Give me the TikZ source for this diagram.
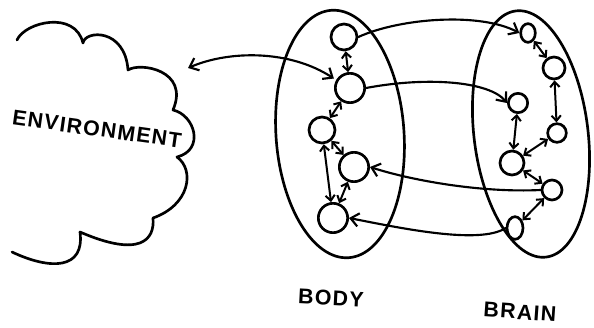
\documentclass[tikz,border=0pt]{standalone}
\usepackage{fontspec}
\setmainfont{Liberation Sans}
\usetikzlibrary{arrows.meta,shapes.geometric}
\begin{document}
\begin{tikzpicture}[x=0.75pt,y=-0.75pt,
  ink/.style={line width=2pt,line cap=round,line join=round},
  unit/.style={draw,ink,circle,inner sep=0pt,minimum size=#1},
  ovalunit/.style={draw,ink,ellipse,inner sep=0pt},
  link/.style={line width=1.6pt,line cap=round},
  short/.style={line width=1.5pt,line cap=round,{Straight Barb[length=4pt,width=7pt]}-{Straight Barb[length=4pt,width=7pt]}},
  label/.style={font=\fontsize{16}{16}\selectfont\bfseries\addfontfeatures{LetterSpace=6}},
  >={Straight Barb[length=6pt,width=10pt]}]
\useasboundingbox (0,0) rectangle (594,328);
% cloud
\draw[ink] (17,40) .. controls (25,22) and (75,10) .. (83,43)
  .. controls (85,30) and (125,28) .. (128,70)
  .. controls (140,62) and (190,70) .. (173,110)
  .. controls (195,115) and (205,150) .. (177,157)
  .. controls (195,170) and (190,205) .. (153,218)
  .. controls (155,240) and (140,258) .. (80,232)
  .. controls (85,270) and (50,270) .. (12,252);
\node[label,rotate=-8] (env) at (97,129) {ENVIRONMENT};
\coordinate (envedge) at (188,68);
% ellipses
\draw[ink,rotate around={4:(340,134)}] (340,134) ellipse [x radius=64, y radius=124];
\draw[ink,rotate around={7:(531,134)}] (531,134) ellipse [x radius=57, y radius=124];
% body nodes
\node[unit=19.5pt] (B1) at (344,37) {};
\node[unit=22pt] (B2) at (350,88) {};
\node[unit=19.5pt] (B3) at (322,130) {};
\node[unit=22pt] (B4) at (354,167) {};
\node[unit=22pt] (B5) at (333,218) {};
% brain nodes
\node[ovalunit,minimum width=11pt,minimum height=14pt] (R1) at (528,33) {};
\node[unit=16.5pt] (R2) at (554,68) {};
\node[unit=14.5pt] (R3) at (518,103) {};
\node[unit=14pt] (R4) at (557,133) {};
\node[unit=18pt] (R5) at (512,163) {};
\node[unit=15pt] (R6) at (552,190) {};
\node[ovalunit,minimum width=12pt,minimum height=17pt] (R7) at (515,228) {};
% body links
\draw[short] (B1) -- (B2);
\draw[short] (B2) -- (B3);
\draw[short] (B3) -- (B4);
\draw[short] (B3) -- (B5);
\draw[short] (B4) -- (B5);
% brain links
\draw[short] (R1) -- (R2);
\draw[short] (R2) -- (R4);
\draw[short] (R3) -- (R5);
\draw[short] (R4) -- (R5);
\draw[short] (R5) -- (R6);
\draw[short] (R6) -- (R7);
% cross links
\draw[link,->] (B1.east) .. controls (400,18) and (480,12) .. (R1.west);
\draw[link,->] (B2.east) .. controls (430,76) and (490,82) .. (R3.west);
\draw[link,->] (R6.west) .. controls (480,193) and (410,180) .. (B4.east);
\draw[link,->] (R7.west) .. controls (480,245) and (400,228) .. (B5.east);
\draw[link,<->,shorten >=2pt] (envedge) .. controls (230,50) and (290,50) .. (B2.150);
% labels
\node[label,rotate=-3] (body) at (331,298) {BODY};
\node[label,rotate=-4] (brain) at (520,312) {BRAIN};
\end{tikzpicture}
\end{document}
